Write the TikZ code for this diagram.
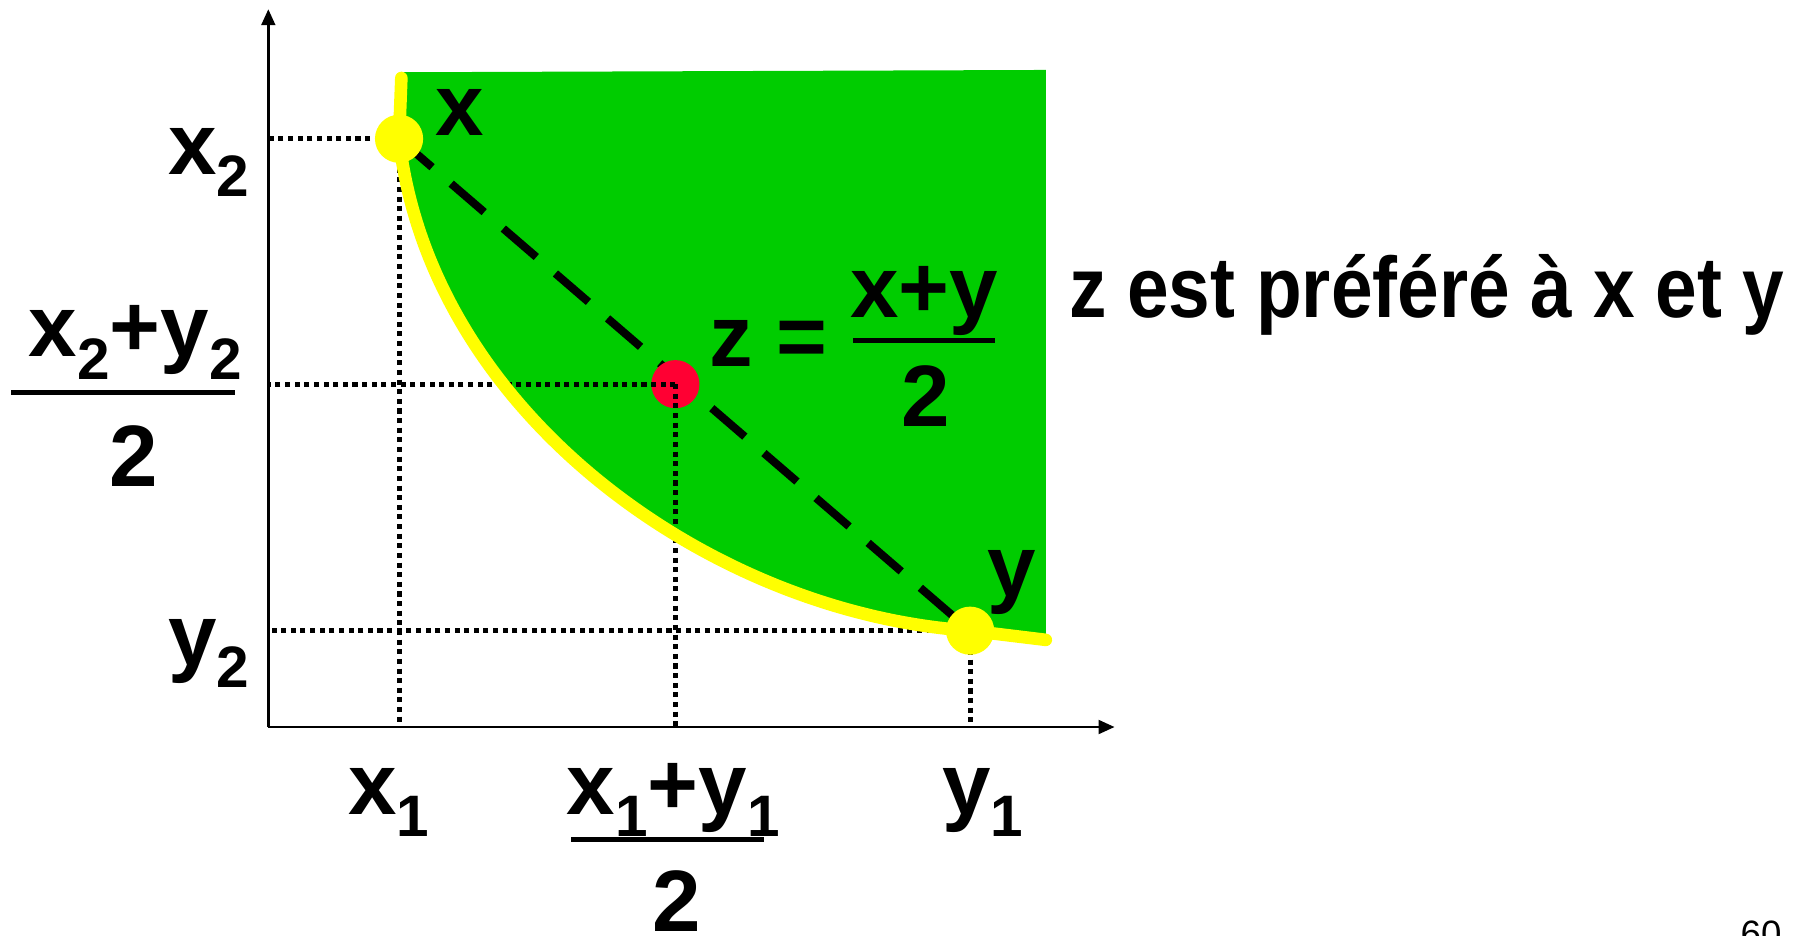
\documentclass[tikz,border=0pt]{standalone}
\usepackage{fontspec}
\setmainfont{Liberation Sans}
\newfontfamily\narrowsans{Liberation Sans}[FakeStretch=0.87]
\usepackage{tikz}
\usetikzlibrary{arrows.meta, positioning}
\definecolor{prefgreen}{RGB}{0, 204, 0}
\definecolor{indiff}{RGB}{255, 255, 0}
\definecolor{midred}{RGB}{255, 0, 51}
\newcommand{\lowidx}[1]{\raisebox{-0.26em}{\fontsize{25.5}{26}\selectfont #1}}

\begin{document}
\begin{tikzpicture}[
    x = 0.5pt, y = -0.5pt,
    lbl/.style = {font=\fontsize{38}{40}\selectfont\bfseries, inner sep=0pt},
    guide/.style = {line width=2.2pt, dash pattern=on 2.2pt off 2pt},
    axis/.style = {line width=1.2pt, -{Triangle[length=7pt, width=6pt]}},
    fracbar/.style = {line width=2.2pt},
    dot/.style = {circle, minimum size=21pt, inner sep=0pt}
  ]
    \useasboundingbox (0,0) rectangle (1568,816);

    \coordinate (o) at (234,634);
    \coordinate (px) at (348,121);
    \coordinate (py) at (846,550);
    \coordinate (pz) at (589,335);

    % preferred set
    \fill[prefgreen] (350,68) -- (350,63) -- (912,61) -- (912,558) -- (py)
      .. controls (620,535) and (375,360) .. (px) -- cycle;

    \draw[line width=3.5pt, dash pattern=on 19pt off 11pt] (px) -- (py);
    \node[dot, fill=midred] (dz) at (pz) {};

    \draw[guide] (px) -- (px -| o);
    \draw[guide] (px) -- (px |- o);
    \draw[guide] (dz.center) -- (pz -| o);
    \draw[guide] (dz.center) -- (pz |- o);
    \draw[guide] (py) -- (py -| o);
    \draw[guide] (py) -- (py |- o);

    % indifference curve
    \draw[indiff, line width=5.5pt, line cap=round] (350,68) -- (px)
      .. controls (375,360) and (620,535) .. (py) -- (912,558);

    \node[dot, fill=indiff] (dx) at (px) {};
    \node[dot, fill=indiff] (dy) at (py) {};

    \draw[axis] (o) -- (234,8);
    \draw[axis] (o) -- (972,634);

    \node[lbl, anchor=base] (lx) at (401,118) {x};
    \node[lbl, anchor=base] (ly) at (882,520) {y};

    \node[lbl, anchor=base east] (lx2) at (218,152) {x\lowidx{2}};
    \node[lbl, anchor=base east] (ly2) at (218,580) {y\lowidx{2}};
    \node[lbl, anchor=base] (lsum2) at (118,311) {x\lowidx{2}+y\lowidx{2}};
    \draw[fracbar] (10,342) -- (205,342);
    \node[lbl, anchor=base] (lhalf2) at (117,424) {2};

    \node[lbl, anchor=base] (lx1) at (339,710) {x\lowidx{1}};
    \node[lbl, anchor=base] (ly1) at (857,710) {y\lowidx{1}};
    \node[lbl, anchor=base] (lsum1) at (587,710) {x\lowidx{1}+y\lowidx{1}};
    \draw[fracbar] (498,732) -- (666,732);
    \node[lbl, anchor=base] (lhalf1) at (590,812) {2};

    \node[lbl, anchor=base west] (lz) at (618,320) {z =};
    \node[lbl, anchor=base] (lzsum) at (806,277) {x+y};
    \draw[fracbar] (744,297) -- (868,297);
    \node[lbl, anchor=base] (lzhalf) at (807,372) {2};

    \node[lbl, anchor=base west, font=\fontsize{37.5}{40}\narrowsans\bfseries]
      (msg) at (932,277) {z est préféré à x et y};

    \node[anchor=north east, inner sep=0pt, font=\fontsize{16}{17}\selectfont]
      (page) at (1554,803) {60};
  \end{tikzpicture}
\end{document}
